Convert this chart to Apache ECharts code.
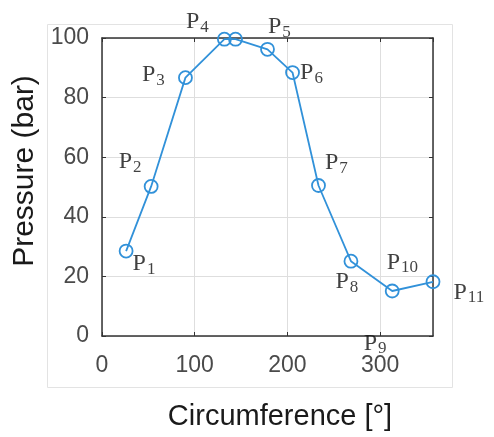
<!DOCTYPE html>
<html>
<head>
<meta charset="utf-8">
<script src="https://cdn.jsdelivr.net/npm/echarts@6/dist/echarts.min.js"></script>
<style>html,body{margin:0;padding:0;background:#fff;}#c{width:494px;height:437px;}</style>
</head>
<body>
<div id="c"></div>
<script>
// Data
var circumference = [26, 53, 90, 132, 144, 178.5, 205.5, 233.5, 268.5, 313, 357];
var pressure      = [28.5, 50.2, 86.7, 99.6, 99.6, 96.2, 88.4, 50.5, 25.1, 15.1, 18.2];
var pointNames    = ['1', '2', '3', '4', '5', '6', '7', '8', '9', '10', '11'];
var namePointIdx  = [0, 1, 2, 3, 5, 6, 7, 8, 9, 9, 10];
var xTicks = [0, 100, 200, 300];
var yTicks = [0, 20, 40, 60, 80, 100];

// label placement styling (pixel offsets from the marker)
var labelOffsets = [[7,1],[-32,-36],[-43,-14],[-38,-29],[1,-34],[8,-11],[7,-34],[-15,9],[-28,41],[-5,-40],[21,-1]];

var lineColor = '#3191d9';
var xMax = circumference[circumference.length - 1];

var labelData = pointNames.map(function (n, i) {
  var k = namePointIdx[i];
  return {
    value: [circumference[k], pressure[k]],
    label: {
      show: true,
      position: labelOffsets[i],
      align: 'left',
      verticalAlign: 'top',
      formatter: '{p|P}{s|' + n + '}'
    }
  };
});

var chart = echarts.init(document.getElementById('c'));
chart.setOption({
  animation: false,
  backgroundColor: '#fff',
  graphic: [{
    type: 'rect', left: 45, top: 22, shape: { width: 405, height: 363 },
    style: { fill: 'none', stroke: '#e3e3e3', lineWidth: 1 }, z: -10
  }],
  grid: { left: 102, top: 38, width: 331, height: 298, containLabel: false },
  xAxis: [{
    type: 'value', min: 0, max: xMax, interval: 100,
    name: 'Circumference [°]', nameLocation: 'middle', nameGap: 66,
    nameTextStyle: { fontFamily: 'Liberation Sans', fontSize: 29, color: '#1a1a1a', padding: [0, 0, 0, 25] },
    axisLine: { show: true, lineStyle: { color: '#333', width: 1.5 } },
    axisTick: { show: true, inside: true, length: 4, lineStyle: { color: '#333' } },
    axisLabel: {
      margin: 18, fontFamily: 'Liberation Sans', fontSize: 23, color: '#4a4a4a',
      showMaxLabel: false,
      formatter: function (v) { return xTicks.indexOf(v) >= 0 ? String(v) : ''; }
    },
    splitLine: { show: true, lineStyle: { color: '#dedede', width: 1 } }
  }, {
    type: 'value', min: 0, max: xMax, interval: 100, position: 'top',
    axisLine: { show: true, onZero: false, lineStyle: { color: '#333', width: 1.5 } },
    axisTick: { show: true, inside: true, length: 4, lineStyle: { color: '#333' } },
    axisLabel: { show: false }, splitLine: { show: false }
  }],
  yAxis: [{
    type: 'value', min: 0, max: 100, interval: 20,
    name: 'Pressure (bar)', nameLocation: 'middle', nameGap: 60,
    nameTextStyle: { fontFamily: 'Liberation Sans', fontSize: 30, color: '#1a1a1a', padding: [0, 0, 0, 32] },
    axisLine: { show: true, lineStyle: { color: '#333', width: 1.5 } },
    axisTick: { show: true, inside: true, length: 4, lineStyle: { color: '#333' } },
    axisLabel: {
      margin: 13, fontFamily: 'Liberation Sans', fontSize: 23, color: '#4a4a4a',
      formatter: function (v) { return yTicks.indexOf(v) >= 0 ? String(v) : ''; }
    },
    splitLine: { show: true, lineStyle: { color: '#dedede', width: 1 } }
  }, {
    type: 'value', min: 0, max: 100, interval: 20, position: 'right',
    axisLine: { show: true, onZero: false, lineStyle: { color: '#333', width: 1.5 } },
    axisTick: { show: true, inside: true, length: 4, lineStyle: { color: '#333' } },
    axisLabel: { show: false }, splitLine: { show: false }
  }],
  series: [{
    type: 'line',
    data: circumference.map(function (x, i) { return [x, pressure[i]]; }),
    symbol: 'circle', symbolSize: 13,
    lineStyle: { color: lineColor, width: 1.8 },
    itemStyle: { color: 'rgba(0,0,0,0)', borderColor: lineColor, borderWidth: 1.8 },
    clip: false, z: 3
  }, {
    type: 'scatter',
    data: labelData,
    symbolSize: 1,
    itemStyle: { color: 'rgba(0,0,0,0)' },
    silent: true,
    z: 4,
    label: {
      rich: {
        p: { fontFamily: 'Liberation Serif', fontSize: 24, color: '#111', lineHeight: 26, verticalAlign: 'top' },
        s: { fontFamily: 'Liberation Serif', fontSize: 17, color: '#111', lineHeight: 17, padding: [14, 0, 0, 1], verticalAlign: 'bottom' }
      }
    }
  }]
});
</script>
</body>
</html>
